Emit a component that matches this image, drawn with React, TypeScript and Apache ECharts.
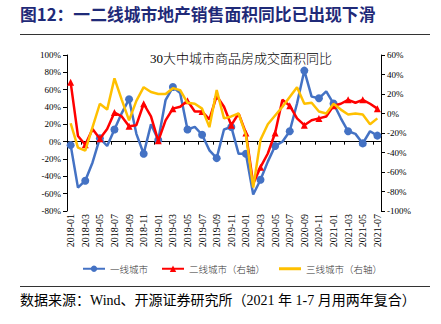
import React, { useEffect, useRef } from "react";
import * as echarts from "echarts";

const months = [
  "2018-01","2018-02","2018-03","2018-04","2018-05","2018-06","2018-07","2018-08","2018-09","2018-10","2018-11","2018-12",
  "2019-01","2019-02","2019-03","2019-04","2019-05","2019-06","2019-07","2019-08","2019-09","2019-10","2019-11","2019-12",
  "2020-01","2020-02","2020-03","2020-04","2020-05","2020-06","2020-07","2020-08","2020-09","2020-10","2020-11","2020-12",
  "2021-01","2021-02","2021-03","2021-04","2021-05","2021-06","2021-07"
];

const tier1 = [-4,-53,-45,-24,4,-5,14,33,49,9,-14,20,2,48,63,56,14,17,8,-10,-19,14,17,-14,-14,-61,-44,-23,-5,0,12,44,82,52,50,58,44,27,12,9,-2,12,7];
const tier2 = [32,-23,-32,-16,-26,-16,1,-3,-13,-12,10,-3,-28,-7,5,7,13,2,2,-6,18,7,-12,0,-20,-72,-55,-41,-20,14,8,-5,-12,-7,-5,-3,8,10,14,11,14,10,5];
const tier3 = [-10,-35,-38,-14,10,4,36,14,-7,13,27,22,20,20,26,24,11,10,5,-14,24,-5,-3,0,-22,-76,-27,-11,-2,7,17,27,10,11,2,0,10,4,-1,0,-1,-11,-5];

const seriesNames = ["一线城市", "二线城市（右轴）", "三线城市（右轴）"];
const titleText = "图12：一二线城市地产销售面积同比已出现下滑";
const subTitle = "30大中城市商品房成交面积同比";
const sourceText = "数据来源：Wind、开源证券研究所（2021 年 1-7 月用两年复合）";

const SERIF = "'Liberation Serif', 'Times New Roman', 'Noto Sans CJK SC', serif";
const CJK = "'Noto Sans CJK SC', 'Liberation Serif', serif";
const MIX = "'Liberation Serif', 'Noto Sans CJK SC', serif";

export default function App() {
  const ref = useRef<HTMLDivElement>(null);
  useEffect(() => {
    if (!ref.current) return;
    const chart = echarts.init(ref.current, null, { renderer: "svg" });
    const axisLine = { show: true, lineStyle: { color: "#000", width: 1 } };
    const legendBase = {
      top: 259,
      itemWidth: 22,
      itemHeight: 8,
      textStyle: { fontFamily: CJK, fontSize: 9.5, color: "#333", fontWeight: 300 },
    };
    chart.setOption({
      animation: false,
      backgroundColor: "#fff",
      grid: { left: 67, right: 60, top: 55, bottom: 113, containLabel: false },
      legend: [
        { ...legendBase, left: 77, data: [seriesNames[0]] },
        { ...legendBase, left: 156, data: [seriesNames[1]] },
        { ...legendBase, left: 274, data: [{ name: seriesNames[2], icon: "path://M0,0H22V3H0Z" }] },
      ],
      xAxis: [
        {
          type: "category",
          data: months,
          boundaryGap: true,
          position: "bottom",
          axisLine: { show: false },
          axisTick: { show: false },
          axisLabel: {
            interval: 1,
            rotate: 90,
            margin: 3,
            fontFamily: SERIF,
            fontSize: 10,
            color: "#000",
          },
        },
        {
          type: "category",
          data: months,
          boundaryGap: true,
          position: "bottom",
          axisLine: { show: true, onZero: true, onZeroAxisIndex: 0, lineStyle: { color: "#000", width: 1 } },
          axisTick: { show: true, interval: 1, length: 3, lineStyle: { color: "#000" } },
          axisLabel: { show: false },
        },
      ],
      yAxis: [
        {
          type: "value",
          min: -80,
          max: 100,
          interval: 20,
          position: "left",
          axisLine,
          axisTick: { show: true, length: 4, lineStyle: { color: "#000" } },
          splitLine: { show: false },
          axisLabel: {
            formatter: "{value}%",
            margin: 6,
            fontFamily: SERIF,
            fontSize: 9,
            color: "#000",
          },
        },
        {
          type: "value",
          min: -100,
          max: 60,
          interval: 20,
          position: "right",
          axisLine,
          axisTick: { show: true, length: 4, lineStyle: { color: "#000" } },
          splitLine: { show: false },
          axisLabel: {
            formatter: "{value}%",
            margin: 6,
            fontFamily: SERIF,
            fontSize: 9,
            color: "#000",
          },
        },
      ],
      series: [
        {
          name: seriesNames[0],
          type: "line",
          xAxisIndex: 0,
          yAxisIndex: 0,
          data: tier1,
          symbol: "circle",
          symbolSize: 8,
          itemStyle: { color: "#4472C4", borderWidth: 0 },
          lineStyle: { color: "#4472C4", width: 2.5 },
          z: 2,
        },
        {
          name: seriesNames[1],
          type: "line",
          xAxisIndex: 0,
          yAxisIndex: 1,
          data: tier2,
          symbol: "triangle",
          symbolSize: 7,
          itemStyle: { color: "#FF0000", borderWidth: 0 },
          lineStyle: { color: "#FF0000", width: 2.5 },
          z: 3,
        },
        {
          name: seriesNames[2],
          type: "line",
          xAxisIndex: 0,
          yAxisIndex: 1,
          data: tier3,
          symbol: "none",
          showSymbol: false,
          itemStyle: { color: "#FFC000" },
          lineStyle: { color: "#FFC000", width: 2.5 },
          z: 4,
        },
      ],
      graphic: [
        {
          type: "text",
          left: 20,
          top: 6,
          style: {
            text: titleText,
            fontFamily: CJK,
            fontWeight: "bold",
            fontSize: 16.8,
            fill: "#1F2A78",
          },
        },
        {
          type: "line",
          shape: { x1: 20, y1: 34.5, x2: 430, y2: 34.5 },
          style: { stroke: "#333", lineWidth: 1 },
        },
        {
          type: "text",
          x: 241,
          y: 58,
          style: {
            text: subTitle,
            fontFamily: MIX,
            fontSize: 13,
            fontWeight: 300,
            fill: "#000",
            textAlign: "center",
            textVerticalAlign: "middle",
          },
        },
        {
          type: "line",
          shape: { x1: 20, y1: 286.5, x2: 430, y2: 286.5 },
          style: { stroke: "#333", lineWidth: 1 },
        },
        {
          type: "text",
          left: 20,
          top: 293,
          style: {
            text: sourceText,
            fontFamily: MIX,
            fontSize: 14,
            fill: "#000",
          },
        },
      ],
    });
    return () => chart.dispose();
  }, []);
  return (
    <div
      ref={ref}
      style={{ position: "fixed", left: 0, top: 0, width: 441, height: 324, background: "#fff" }}
    />
  );
}
